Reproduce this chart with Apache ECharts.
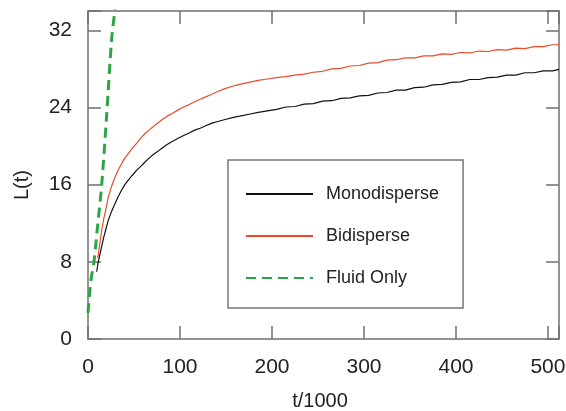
<!DOCTYPE html>
<html><head><meta charset="utf-8">
<script src="https://cdn.jsdelivr.net/npm/echarts@6/dist/echarts.min.js"></script>
<style>html,body{margin:0;padding:0;background:#fff}#c{width:566px;height:411px}</style>
</head><body><div id="c"></div>
<script>
var xTicks = [0, 100, 200, 300, 400, 500];
var yTicks = [0, 8, 16, 24, 32];
var seriesNames = ['Monodisperse', 'Bidisperse', 'Fluid Only'];
var mono = [[9.4,6.97],[11,7.9],[13,8.8],[14.9,9.6],[17,10.5],[19.5,11.4],[22,12.3],[25.5,13.2],[29.4,14.05],[33,14.8],[36.6,15.45],[40,16.0],[44,16.5],[48,16.95],[53,17.5],[58,17.95],[62,18.35],[67,18.8],[72,19.2],[76,19.45],[80,19.75],[86,20.15],[92,20.5],[98,20.8],[104,21.1],[110,21.35],[116,21.65],[122,21.85],[128,22.1],[134,22.35],[141,22.55],[149,22.75],[157,22.95],[165,23.1],[175,23.3],[185,23.5],[195,23.65],[205,23.8],[215,24.05],[225,24.1],[235,24.35],[245,24.4],[255,24.65],[265,24.7],[275,24.95],[285,25.0],[295,25.2],[305,25.25],[315,25.5],[325,25.55],[335,25.8],[345,25.8],[355,26.05],[365,26.1],[375,26.35],[385,26.4],[395,26.6],[405,26.65],[415,26.9],[425,26.9],[435,27.1],[445,27.15],[455,27.35],[465,27.35],[475,27.6],[485,27.6],[495,27.8],[505,27.8],[512,27.95]];
var bi = [[10.3,8.4],[11.2,8.7],[13,10.0],[14.9,11.3],[17,12.4],[19.5,13.5],[22,14.7],[25.5,15.8],[29.4,16.8],[33,17.55],[36.6,18.2],[40,18.75],[44,19.25],[48,19.75],[53,20.3],[58,20.9],[62,21.3],[67,21.7],[72,22.1],[76,22.4],[80,22.7],[86,23.1],[92,23.4],[98,23.75],[104,24.05],[110,24.3],[116,24.6],[122,24.85],[128,25.1],[134,25.35],[141,25.65],[149,25.95],[157,26.2],[165,26.4],[175,26.6],[185,26.8],[195,26.95],[205,27.1],[215,27.2],[225,27.35],[235,27.45],[245,27.65],[255,27.75],[265,28.0],[275,28.05],[285,28.3],[295,28.35],[305,28.6],[315,28.65],[325,28.9],[335,28.95],[345,29.15],[355,29.15],[365,29.35],[375,29.35],[385,29.55],[395,29.5],[405,29.7],[415,29.65],[425,29.85],[435,29.8],[445,30.0],[455,29.95],[465,30.15],[475,30.1],[485,30.3],[495,30.3],[505,30.5],[512,30.5]];
var fluid = [[0,2.7],[2,5.0],[4,6.6],[6.5,8.0],[10,11.3],[14.9,16.0],[20.3,23.2],[25.8,31.2],[29.5,34.2]];

var axisColor = '#707070';
var font = 'Liberation Sans, Arial, Helvetica, sans-serif';
function baseAxis(o){
  return Object.assign({
    type:'value',
    axisLine:{show:true,onZero:false,lineStyle:{color:axisColor,width:1.5}},
    axisTick:{show:true,inside:true,length:13,lineStyle:{color:axisColor,width:1.5}},
    splitLine:{show:false}
  }, o);
}
var chart = echarts.init(document.getElementById('c'), null, {renderer:'canvas'});
chart.setOption({
  animation:false,
  backgroundColor:'#fff',
  grid:{left:88,right:7,top:11,bottom:72,containLabel:false,outerBoundsMode:'none'},
  xAxis:[
    baseAxis({min:0,max:512,interval:100,position:'bottom',
      axisLabel:{fontSize:21,color:'#222',fontFamily:font,margin:18,
        formatter:function(v){return xTicks.indexOf(v)>=0?String(v):'';}}}),
    baseAxis({min:0,max:512,interval:100,position:'top',axisLabel:{show:false}})
  ],
  yAxis:[
    baseAxis({min:0,max:34,interval:8,position:'left',
      axisLabel:{fontSize:21,color:'#222',fontFamily:font,margin:16,
        formatter:function(v){return yTicks.indexOf(v)>=0?String(v):'';}}}),
    baseAxis({min:0,max:34,interval:8,position:'right',axisLabel:{show:false}})
  ],
  graphic:[
    {type:'text',x:22,y:185,rotation:Math.PI/2,
      style:{text:'L(t)',fontSize:20,fill:'#222',fontFamily:font,align:'center',verticalAlign:'middle'}},
    {type:'text',x:320,y:401,
      style:{text:'t/1000',fontSize:20,fill:'#222',fontFamily:font,align:'center',verticalAlign:'middle'}}
  ],
  legend:{
    orient:'vertical',left:228,top:160,
    padding:[25,24,21,17],itemGap:24,itemWidth:67,itemHeight:14,
    borderColor:'#777',borderWidth:1.5,borderRadius:0,
    itemStyle:{opacity:0},
    data:seriesNames,
    textStyle:{fontSize:18,color:'#222',fontFamily:font,padding:[0,0,0,8]}
  },
  series:[
    {name:seriesNames[0],type:'line',data:mono,symbol:'none',smooth:false,
      lineStyle:{color:'#111',width:1.2},itemStyle:{color:'#111'}},
    {name:seriesNames[1],type:'line',data:bi,symbol:'none',smooth:false,
      lineStyle:{color:'#ee4a2a',width:1.2},itemStyle:{color:'#ee4a2a'}},
    {name:seriesNames[2],type:'line',data:fluid,symbol:'none',smooth:0.3,
      lineStyle:{color:'#2ea544',width:3,type:[10,6]},itemStyle:{color:'#2ea544'}}
  ]
});
</script></body></html>
